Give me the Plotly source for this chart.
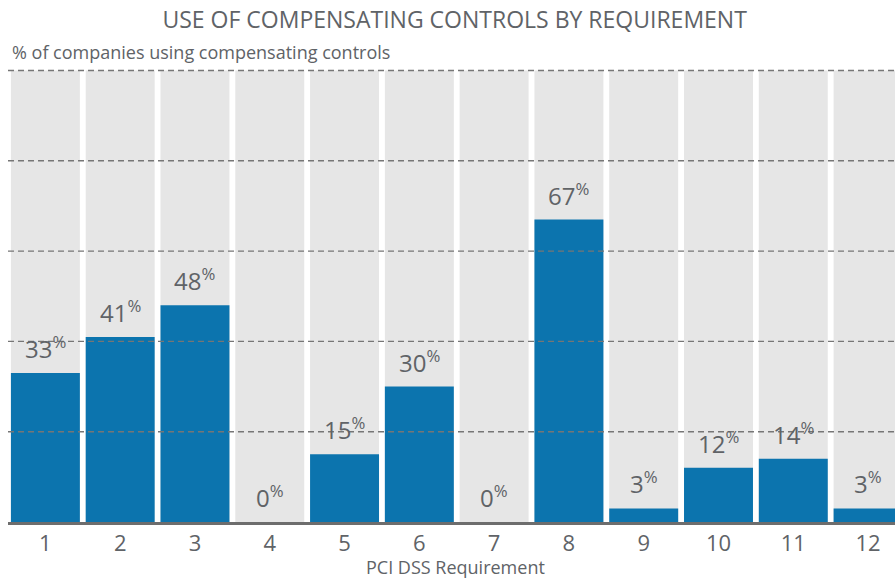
import plotly.graph_objects as go

# PCI DSS requirements and share of companies using compensating controls (%)
requirements = [str(i) for i in range(1, 13)]
usage_pct = [33, 41, 48, 0, 15, 30, 0, 67, 3, 12, 14, 3]
grid_levels = [20, 40, 60, 80, 100]
full_scale = [100] * len(requirements)

BLUE = "#0c74ae"
BACK = "#e6e6e6"
TEXT = "#606367"
FONT = "Open Sans"

fig = go.Figure()

# light grey column behind each bar, spanning the full 0-100% range
fig.add_trace(go.Bar(
    x=requirements, y=full_scale, marker=dict(color=BACK, line=dict(width=0)),
    hoverinfo="skip", showlegend=False,
))
fig.add_trace(go.Bar(
    x=requirements, y=usage_pct, marker=dict(color=BLUE, line=dict(width=0)),
    hoverinfo="skip", showlegend=False,
))

# value labels with a raised percent sign (category index positions)
for idx, val in enumerate(usage_pct):
    fig.add_annotation(
        x=idx, y=val, xref="x", yref="y",
        text=f"{val}<sup>%</sup>", showarrow=False,
        yanchor="bottom", yshift=6,
        font=dict(family=FONT, size=24, color=TEXT),
    )

# dashed reference lines drawn over the bars
for lvl in grid_levels:
    fig.add_shape(
        type="line", xref="paper", yref="y", x0=0, x1=1, y0=lvl, y1=lvl,
        line=dict(color="#767676", width=1.4, dash="6px,4px"), layer="above",
    )

fig.add_annotation(
    xref="paper", yref="paper", x=0, y=1, xanchor="left", yanchor="bottom",
    xshift=2, yshift=0,
    text="% of companies using compensating controls", showarrow=False,
    font=dict(family=FONT, size=18, color=TEXT),
)
fig.add_annotation(
    xref="paper", yref="paper", x=0.505, y=0, xanchor="center", yanchor="top",
    yshift=-31, text="PCI DSS Requirement", showarrow=False,
    font=dict(family=FONT, size=18, color=TEXT),
)

fig.update_layout(
    width=895, height=579,
    margin=dict(l=8, r=0, t=66, b=57),
    paper_bgcolor="white", plot_bgcolor="white",
    barmode="overlay", bargap=0.078,
    title=dict(
        text="USE OF COMPENSATING CONTROLS BY REQUIREMENT",
        x=0.508, xanchor="center", y=0.965, yanchor="middle",
        font=dict(family=FONT, size=23, color=TEXT),
    ),
    font=dict(family=FONT, color=TEXT),
    xaxis=dict(
        type="category", range=[-0.5, 11.36], showgrid=False,
        showline=True, linecolor="#6d6d6d", linewidth=2.5,
        ticks="", ticklabelstandoff=0,
        tickfont=dict(family=FONT, size=22, color=TEXT),
        fixedrange=True,
    ),
    yaxis=dict(
        range=[0, 101], showgrid=False, zeroline=False,
        showticklabels=False, ticks="", fixedrange=True,
    ),
)

fig.write_html("out.html")
